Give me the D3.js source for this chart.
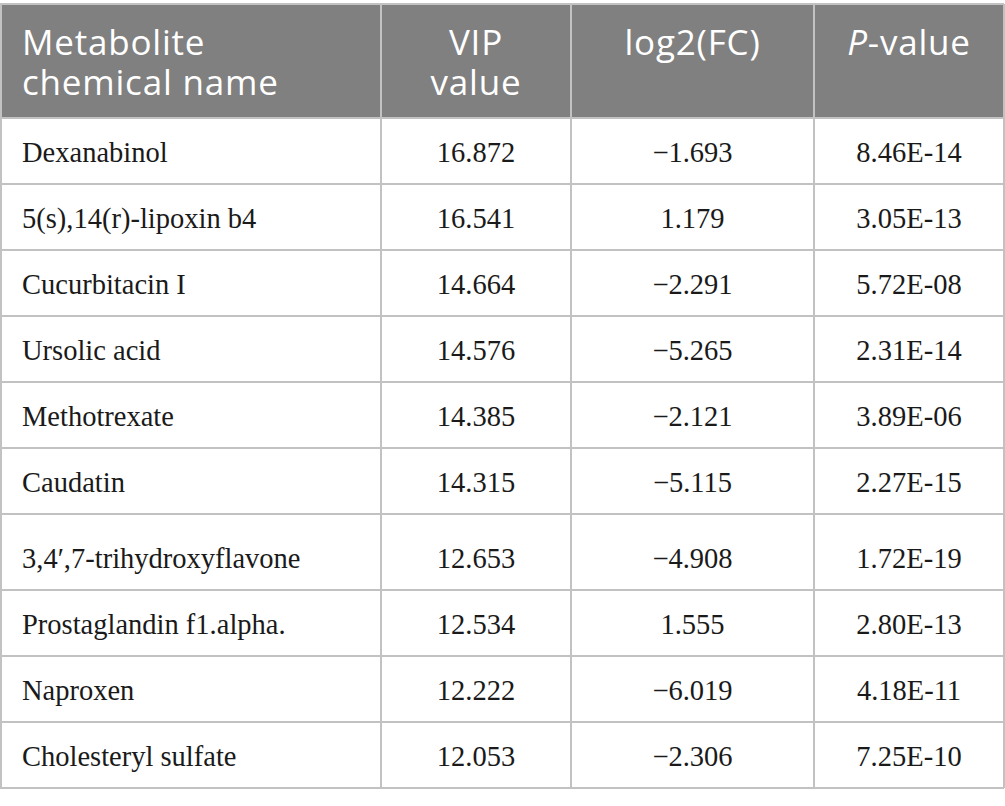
<!DOCTYPE html>
<html>
<head>
<meta charset="utf-8">
<script src="https://cdn.jsdelivr.net/npm/d3@7"></script>
<style>
  html, body { margin: 0; padding: 0; background: #fff; }
  #chart { width: 1005px; height: 806px; }
</style>
</head>
<body>
<div id="chart"></div>
<script>
'use strict';

// Table content
const HEADERS = [
  ['Metabolite', 'chemical name'],
  ['VIP', 'value'],
  ['log2(FC)'],
  ['P-value'],
];
const METABOLITES = [
  'Dexanabinol', '5(s),14(r)-lipoxin b4', 'Cucurbitacin I', 'Ursolic acid', 'Methotrexate',
  'Caudatin', '3,4\u2032,7-trihydroxyflavone', 'Prostaglandin f1.alpha.', 'Naproxen', 'Cholesteryl sulfate',
];
const VIP_VALUES = [16.872, 16.541, 14.664, 14.576, 14.385, 14.315, 12.653, 12.534, 12.222, 12.053];
const LOG2FC = [-1.693, 1.179, -2.291, -5.265, -2.121, -5.115, -4.908, 1.555, -6.019, -2.306];
const P_VALUES = ['8.46E-14', '3.05E-13', '5.72E-08', '2.31E-14', '3.89E-06', '2.27E-15', '1.72E-19', '2.80E-13', '4.18E-11', '7.25E-10'];

// Layout
const COL_EDGES = [0, 381, 571, 814, 1004];
const TOP = 4;
const HEADER_H = 114;
const ROW_H = [66, 66, 66, 66, 66, 66, 76, 66, 66, 66];
const BORDER = '#c2c2c2';
const HEADER_BG = '#808080';
const SANS = '"Open Sans", "DejaVu Sans", sans-serif';
const SERIF = '"Liberation Serif", "DejaVu Serif", serif';

const fmt3 = d3.format('.3f');
const fmtSigned = v => (v < 0 ? '\u2212' : '') + fmt3(Math.abs(v));

const rows = METABOLITES.map((name, i) => [name, fmt3(VIP_VALUES[i]), fmtSigned(LOG2FC[i]), P_VALUES[i]]);

const rowTops = [];
ROW_H.reduce((acc, h) => { rowTops.push(acc); return acc + h; }, TOP + HEADER_H);
const bottom = rowTops[rowTops.length - 1] + ROW_H[ROW_H.length - 1];

const x = d3.scaleOrdinal().domain(d3.range(4)).range(COL_EDGES.slice(0, 4));
const colW = i => COL_EDGES[i + 1] - COL_EDGES[i];
const textX = i => i === 0 ? COL_EDGES[0] + 22 : x(i) + colW(i) / 2;
const anchor = i => i === 0 ? 'start' : 'middle';

const svg = d3.select('#chart').append('svg')
  .attr('width', 1005).attr('height', 806);

// Header background
svg.append('rect')
  .attr('x', COL_EDGES[0]).attr('y', TOP)
  .attr('width', COL_EDGES[4] - COL_EDGES[0]).attr('height', HEADER_H)
  .attr('fill', HEADER_BG);

// Header text
HEADERS.forEach((lines, i) => {
  const t = svg.append('text')
    .attr('x', textX(i)).attr('y', TOP + 51)
    .attr('text-anchor', anchor(i))
    .attr('font-family', SANS).attr('font-size', 35)
    .attr('letter-spacing', 0.8)
    .attr('fill', '#fff');
  lines.forEach((ln, j) => {
    const span = t.append('tspan').attr('x', textX(i)).attr('dy', j === 0 ? 0 : 40);
    if (ln === 'P-value') {
      span.append('tspan').attr('font-style', 'italic').text('P');
      span.append('tspan').text('-value');
    } else {
      span.text(ln);
    }
  });
});

// Body rows
const rowG = svg.selectAll('g.row')
  .data(rows)
  .join('g')
  .attr('class', 'row')
  .attr('transform', (d, i) => `translate(0,${rowTops[i]})`);

rowG.selectAll('text')
  .data((d, i) => d.map(v => ({ v, h: ROW_H[i] })))
  .join('text')
  .attr('x', (d, i) => textX(i))
  .attr('y', d => d.h - 22)
  .attr('text-anchor', (d, i) => anchor(i))
  .attr('font-family', SERIF).attr('font-size', 28.5)
  .attr('fill', '#1a1a1a')
  .text(d => d.v);

// Horizontal grid lines
svg.selectAll('line.h')
  .data(rowTops.concat([bottom]))
  .join('line')
  .attr('class', 'h')
  .attr('x1', COL_EDGES[0]).attr('x2', COL_EDGES[4])
  .attr('y1', d => d).attr('y2', d => d)
  .attr('stroke', BORDER).attr('stroke-width', 2);

// Vertical lines
svg.selectAll('line.v')
  .data(COL_EDGES)
  .join('line')
  .attr('class', 'v')
  .attr('x1', d => d + (d === 0 ? 1 : 0)).attr('x2', d => d + (d === 0 ? 1 : 0))
  .attr('y1', TOP).attr('y2', bottom)
  .attr('stroke', BORDER).attr('stroke-width', 2);

// Top border
svg.append('line')
  .attr('x1', COL_EDGES[0]).attr('x2', COL_EDGES[4])
  .attr('y1', TOP).attr('y2', TOP)
  .attr('stroke', BORDER).attr('stroke-width', 2);
</script>
</body>
</html>
